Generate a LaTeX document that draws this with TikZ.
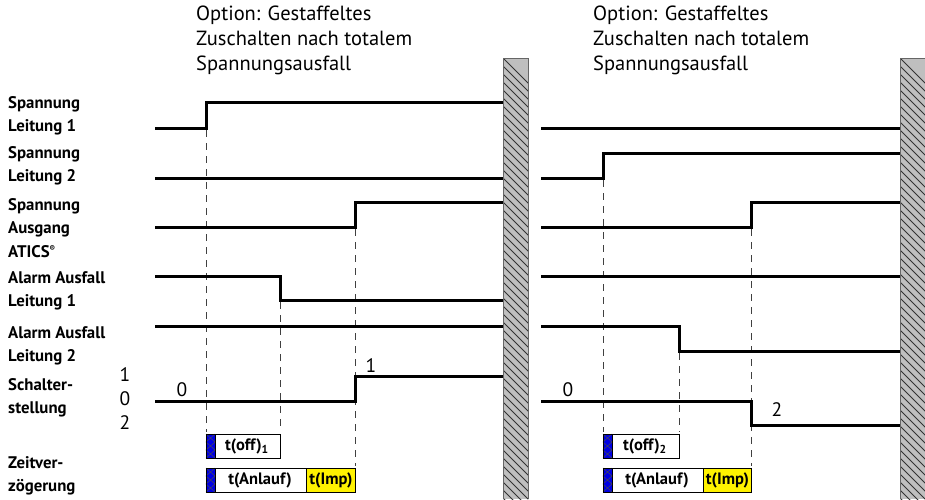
\documentclass[tikz,border=0pt]{standalone}
\usepackage{fontspec}
\setmainfont{PT Sans}
\begin{document}
\begin{tikzpicture}[x=1pt,y=-1pt,
  sig/.style={line width=3pt},
  guide/.style={draw=black!75,line width=0.9pt,dash pattern=on 7pt off 6pt},
  lbl/.style={anchor=west,font=\fontsize{16.8}{23.5}\selectfont\bfseries,align=left,inner sep=0pt},
  ttl/.style={anchor=north west,font=\fontsize{20.5}{25}\selectfont,align=left,inner sep=0pt},
  num/.style={font=\fontsize{19.5}{20}\selectfont,inner sep=0pt},
  tbox/.style={draw,line width=1pt,fill=white,inner sep=0pt,font=\fontsize{16.5}{18}\selectfont\bfseries},
  ibox/.style={draw,line width=1pt,fill=yellow,inner sep=0pt,font=\fontsize{16.5}{18}\selectfont\bfseries}]
\useasboundingbox (0,0) rectangle (925,499);

% titles
\node[ttl] (t1) at (196,6) {Option: Gestaffeltes\\Zuschalten nach totalem\\Spannungsausfall};
\node[ttl] (t2) at (593,6) {Option: Gestaffeltes\\Zuschalten nach totalem\\Spannungsausfall};

% left labels
\node[lbl] (l1) at (8,116) {Spannung\\Leitung 1};
\node[lbl] (l2) at (8,166) {Spannung\\Leitung 2};
\node[lbl] (l3) at (8,228) {Spannung\\Ausgang\\ATICS\textsuperscript{\footnotesize ®}};
\node[lbl] (l4) at (8,291) {Alarm Ausfall\\Leitung 1};
\node[lbl] (l5) at (8,346) {Alarm Ausfall\\Leitung 2};
\node[lbl] (l6) at (8,398) {Schalter-\\stellung};
\node[lbl] (l7) at (8,476) {Zeitver-\\zögerung};
\node[num] (n1) at (125,375) {1};
\node[num] (n0) at (125,399) {0};
\node[num] (n2) at (125,423) {2};

% hatched bars
\foreach \bx in {503,900}{
  \begin{scope}
    \clip (\bx,58) rectangle (\bx+25,499);
    \fill[black!25] (\bx,58) rectangle (\bx+25,499);
    \foreach \k in {0,8,...,480}{
      \draw[black!80,line width=1pt] (\bx-2,58+\k-2) -- (\bx+27,58+\k+27);
    }
  \end{scope}
  \draw[black!60,line width=1pt] (\bx,499) -- (\bx,58) -- (\bx+25,58) -- (\bx+25,499);
}

% guides left
\coordinate (ga1) at (206,130); \coordinate (ga2) at (206,432);
\coordinate (gb1) at (280,302); \coordinate (gb2) at (280,432);
\coordinate (gc1) at (355,229); \coordinate (gc2) at (355,466);
\draw[guide] (ga1) -- (ga2);
\draw[guide] (gb1) -- (gb2);
\draw[guide] (gc1) -- (gc2);
% guides right
\coordinate (gd1) at (603,180); \coordinate (gd2) at (603,432);
\coordinate (ge1) at (679,353); \coordinate (ge2) at (679,432);
\coordinate (gf1) at (751,229); \coordinate (gf2) at (751,466);
\draw[guide] (gd1) -- (gd2);
\draw[guide] (ge1) -- (ge2);
\draw[guide] (gf1) -- (gf2);

% signals left
\draw[sig] (155,128) -- (206,128) -- (206,102) -- (503,102);
\draw[sig] (155,178) -- (503,178);
\draw[sig] (155,227) -- (355,227) -- (355,202) -- (503,202);
\draw[sig] (155,276) -- (280,276) -- (280,300) -- (503,300);
\draw[sig] (155,326) -- (503,326);
\draw[sig] (155,401) -- (355,401) -- (355,376) -- (503,376);
\node[num] (s0a) at (182,390) {0};
\node[num] (s1a) at (371,366) {1};

% signals right
\draw[sig] (541,128) -- (900,128);
\draw[sig] (541,178) -- (603,178) -- (603,153) -- (900,153);
\draw[sig] (541,227) -- (751,227) -- (751,202) -- (900,202);
\draw[sig] (541,276) -- (900,276);
\draw[sig] (541,326) -- (679,326) -- (679,351) -- (900,351);
\draw[sig] (541,401) -- (751,401) -- (751,425) -- (900,425);
\node[num] (s0b) at (568,390) {0};
\node[num] (s2b) at (777,410) {2};

% delay boxes
\foreach \x/\xo/\xa/\xi/\sub in {206/280/306/355/1,603/679/703/751/2}{
  \node[tbox,minimum height=24pt,minimum width=\xo-\x pt,anchor=north west] (off\sub) at (\x,434) {\hspace*{7pt}t(off)\textsubscript{\sub}};
  \node[tbox,minimum height=24pt,minimum width=\xa-\x pt,anchor=north west] (anl\sub) at (\x,468) {\hspace*{7pt}t(Anlauf)};
  \node[ibox,minimum height=24pt,minimum width=\xi-\xa pt,anchor=north west] (imp\sub) at (\xa,468) {t(Imp)};
  \foreach \yy in {434,468}{
    \fill[blue!90!black] (\x,\yy) rectangle (\x+9,\yy+24);
    \draw[black!70,line width=0.5pt] (\x,\yy) -- (\x+9,\yy+8) -- (\x,\yy+16) -- (\x+9,\yy+24);
    \draw[black!70,line width=0.5pt] (\x+9,\yy) -- (\x,\yy+8) -- (\x+9,\yy+16) -- (\x,\yy+24);
    \draw[line width=1pt] (\x,\yy) rectangle (\x+9,\yy+24);
  }
}
\end{tikzpicture}
\end{document}
